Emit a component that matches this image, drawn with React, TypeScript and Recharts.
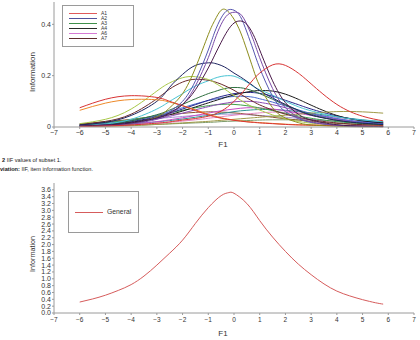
import { LineChart, Line, XAxis, YAxis, Legend } from "recharts";

// theta points where each item information curve is sampled
const theta = [-6, -5, -4, -3, -2.5, -2, -1.5, -1, -0.75, -0.5, -0.25, 0, 0.25, 0.5, 0.75, 1, 1.5, 2, 2.5, 3, 4, 5, 5.8];

// tall, narrow items
const iifOlive = [0.003, 0.005, 0.012, 0.04, 0.075, 0.13, 0.23, 0.36, 0.415, 0.455, 0.452, 0.42, 0.37, 0.3, 0.225, 0.16, 0.075, 0.035, 0.017, 0.008, 0.003, 0.001, 0.001];
const iifSlate = [0.004, 0.008, 0.015, 0.035, 0.06, 0.1, 0.18, 0.3, 0.37, 0.425, 0.455, 0.455, 0.43, 0.37, 0.3, 0.23, 0.12, 0.06, 0.033, 0.018, 0.007, 0.003, 0.002];
const iifViolet = [0.003, 0.006, 0.012, 0.03, 0.05, 0.088, 0.16, 0.27, 0.34, 0.4, 0.437, 0.447, 0.44, 0.4, 0.34, 0.27, 0.15, 0.075, 0.038, 0.02, 0.007, 0.003, 0.001];
const iifPlum = [0.004, 0.008, 0.016, 0.035, 0.055, 0.088, 0.145, 0.23, 0.28, 0.33, 0.375, 0.405, 0.413, 0.4, 0.36, 0.3, 0.18, 0.095, 0.05, 0.027, 0.009, 0.003, 0.002];

// medium items
const iifRed = [0.002, 0.004, 0.008, 0.015, 0.02, 0.027, 0.033, 0.042, 0.05, 0.062, 0.078, 0.1, 0.125, 0.155, 0.185, 0.21, 0.242, 0.24, 0.21, 0.168, 0.088, 0.042, 0.024];
const iifRedLow = [0.075, 0.108, 0.122, 0.115, 0.1, 0.083, 0.064, 0.047, 0.04, 0.034, 0.03, 0.026, 0.023, 0.02, 0.018, 0.016, 0.013, 0.01, 0.008, 0.007, 0.005, 0.004, 0.003];
const iifOrange = [0.065, 0.093, 0.107, 0.106, 0.097, 0.083, 0.067, 0.05, 0.043, 0.036, 0.031, 0.027, 0.024, 0.021, 0.019, 0.017, 0.014, 0.011, 0.009, 0.008, 0.006, 0.004, 0.003];
const iifNavy = [0.008, 0.018, 0.045, 0.1, 0.155, 0.205, 0.24, 0.25, 0.248, 0.24, 0.227, 0.21, 0.195, 0.178, 0.16, 0.142, 0.113, 0.088, 0.065, 0.046, 0.026, 0.015, 0.01];
const iifLime = [0.013, 0.03, 0.07, 0.14, 0.172, 0.192, 0.196, 0.185, 0.172, 0.157, 0.14, 0.122, 0.105, 0.09, 0.077, 0.066, 0.047, 0.032, 0.022, 0.015, 0.007, 0.003, 0.002];
const iifBrown = [0.01, 0.022, 0.05, 0.11, 0.148, 0.175, 0.186, 0.182, 0.176, 0.167, 0.156, 0.143, 0.128, 0.113, 0.099, 0.086, 0.066, 0.05, 0.038, 0.028, 0.016, 0.009, 0.006];
const iifCyan = [0.005, 0.012, 0.03, 0.07, 0.1, 0.13, 0.16, 0.18, 0.19, 0.197, 0.2, 0.198, 0.188, 0.175, 0.158, 0.145, 0.124, 0.1, 0.079, 0.063, 0.04, 0.027, 0.02];
const iifKhaki = [0.002, 0.003, 0.005, 0.01, 0.013, 0.016, 0.019, 0.022, 0.024, 0.026, 0.028, 0.03, 0.032, 0.034, 0.036, 0.038, 0.042, 0.046, 0.05, 0.054, 0.06, 0.059, 0.054];
const iifForest = [0.006, 0.012, 0.024, 0.048, 0.066, 0.088, 0.11, 0.13, 0.138, 0.146, 0.152, 0.154, 0.153, 0.148, 0.14, 0.13, 0.108, 0.085, 0.065, 0.048, 0.026, 0.014, 0.009];

// flat, low items
const iifBlue = [0.008, 0.014, 0.025, 0.045, 0.06, 0.075, 0.09, 0.103, 0.108, 0.113, 0.117, 0.119, 0.12, 0.119, 0.116, 0.11, 0.097, 0.082, 0.067, 0.053, 0.033, 0.02, 0.014];
const iifPurple = [0.006, 0.01, 0.018, 0.032, 0.042, 0.054, 0.067, 0.079, 0.085, 0.09, 0.094, 0.098, 0.1, 0.1, 0.099, 0.096, 0.087, 0.075, 0.062, 0.05, 0.031, 0.019, 0.013];
const iifGreen = [0.01, 0.017, 0.028, 0.045, 0.055, 0.065, 0.075, 0.083, 0.086, 0.088, 0.089, 0.088, 0.086, 0.083, 0.079, 0.074, 0.064, 0.053, 0.043, 0.034, 0.021, 0.013, 0.009];
const iifMagenta = [0.004, 0.007, 0.012, 0.021, 0.028, 0.036, 0.045, 0.054, 0.059, 0.063, 0.067, 0.07, 0.073, 0.075, 0.075, 0.074, 0.07, 0.063, 0.054, 0.045, 0.029, 0.018, 0.012];
const iifTeal = [0.005, 0.008, 0.012, 0.02, 0.025, 0.031, 0.038, 0.045, 0.049, 0.053, 0.056, 0.06, 0.063, 0.065, 0.067, 0.068, 0.068, 0.065, 0.06, 0.054, 0.04, 0.028, 0.021];
const iifPink = [0.003, 0.005, 0.008, 0.014, 0.018, 0.023, 0.028, 0.034, 0.037, 0.04, 0.043, 0.046, 0.049, 0.051, 0.053, 0.055, 0.058, 0.057, 0.054, 0.049, 0.037, 0.026, 0.019];
const iifIndigo = [0.006, 0.011, 0.021, 0.04, 0.054, 0.07, 0.087, 0.104, 0.112, 0.119, 0.125, 0.13, 0.133, 0.135, 0.134, 0.131, 0.12, 0.104, 0.087, 0.07, 0.043, 0.025, 0.016];
const iifBlack = [0.004, 0.009, 0.018, 0.036, 0.048, 0.062, 0.078, 0.094, 0.102, 0.11, 0.118, 0.125, 0.131, 0.136, 0.14, 0.142, 0.14, 0.128, 0.108, 0.085, 0.045, 0.024, 0.017];
const iifLavender = [0.012, 0.018, 0.025, 0.033, 0.037, 0.041, 0.045, 0.048, 0.049, 0.05, 0.05, 0.05, 0.049, 0.048, 0.047, 0.045, 0.042, 0.038, 0.034, 0.03, 0.022, 0.016, 0.012];
const iifSage = [0.003, 0.005, 0.007, 0.01, 0.012, 0.014, 0.016, 0.018, 0.019, 0.021, 0.022, 0.023, 0.024, 0.025, 0.026, 0.027, 0.028, 0.028, 0.028, 0.027, 0.024, 0.02, 0.017];
const iifRust = [0.012, 0.02, 0.03, 0.042, 0.048, 0.053, 0.057, 0.059, 0.059, 0.058, 0.057, 0.055, 0.053, 0.05, 0.047, 0.044, 0.038, 0.032, 0.027, 0.022, 0.014, 0.009, 0.007];

// drawn in this order, last one on top
const items = [
  { key: "sage", color: "#7e9c6c", values: iifSage },
  { key: "lavender", color: "#a892d8", values: iifLavender },
  { key: "rust", color: "#8a5432", values: iifRust },
  { key: "pink", color: "#e486c0", values: iifPink },
  { key: "teal", color: "#2f9494", values: iifTeal },
  { key: "magenta", color: "#c64ec6", values: iifMagenta },
  { key: "green", color: "#3f9f4a", values: iifGreen },
  { key: "purple", color: "#8c4cb4", values: iifPurple },
  { key: "blue", color: "#4a6ad0", values: iifBlue },
  { key: "indigo", color: "#25258a", values: iifIndigo },
  { key: "black", color: "#1b1b1b", values: iifBlack },
  { key: "khaki", color: "#a09a48", values: iifKhaki },
  { key: "forest", color: "#2f6f3f", values: iifForest },
  { key: "cyan", color: "#48c4d4", values: iifCyan },
  { key: "brown", color: "#6b2b2b", values: iifBrown },
  { key: "lime", color: "#a8c848", values: iifLime },
  { key: "navy", color: "#1e2460", values: iifNavy },
  { key: "orange", color: "#ee8a2a", values: iifOrange },
  { key: "redLow", color: "#d83434", values: iifRedLow },
  { key: "olive", color: "#8c8c1c", values: iifOlive },
  { key: "slate", color: "#5656b0", values: iifSlate },
  { key: "violet", color: "#7a4aa8", values: iifViolet },
  { key: "plum", color: "#4a1a4a", values: iifPlum },
  { key: "red", color: "#d83434", values: iifRed },
];

const itemRows = theta.map((t, i) => {
  const row: Record<string, number> = { t };
  items.forEach((it) => {
    row[it.key] = it.values[i];
  });
  return row;
});

const legendNames = ["A1", "A2", "A3", "A4", "A6", "A7"];
const legendColors = ["#e05a5a", "#52529c", "#3f8f4a", "#2a2a2a", "#d57ad5", "#5c2c2c"];

// test information curve
const generalTheta = [-6, -5.5, -5, -4.5, -4, -3.5, -3, -2.5, -2, -1.5, -1, -0.5, -0.2, 0, 0.5, 1, 1.5, 2, 2.5, 3, 3.5, 4, 4.5, 5, 5.5, 5.8];
const generalInfo = [0.32, 0.41, 0.52, 0.66, 0.83, 1.08, 1.4, 1.75, 2.13, 2.62, 3.08, 3.43, 3.52, 3.5, 3.2, 2.7, 2.22, 1.8, 1.43, 1.12, 0.85, 0.64, 0.5, 0.39, 0.3, 0.26];
const generalRows = generalTheta.map((t, i) => ({ t, info: generalInfo[i] }));

const xTicks = [-7, -6, -5, -4, -3, -2, -1, 0, 1, 2, 3, 4, 5, 6, 7];
const itemYTicks = [0, 0.2, 0.4];
const generalYTicks = [0, 0.2, 0.4, 0.6, 0.8, 1, 1.2, 1.4, 1.6, 1.8, 2, 2.2, 2.4, 2.6, 2.8, 3, 3.2, 3.4, 3.6];

const FRAME = "#9a9a9a";
const TEXT = "#333";
const FONT = '"Liberation Sans", Arial, sans-serif';

const fmtX = (v: number) => (v < 0 ? "\u2212" + Math.abs(v) : String(v));

function LegendBox({ names, colors, rowGap, fontSize }: { names: string[]; colors: string[]; rowGap: number; fontSize: number }) {
  return (
    <div
      style={{
        width: "100%",
        height: "100%",
        boxSizing: "border-box",
        border: `1px solid ${FRAME}`,
        background: "#fff",
        padding: names.length > 1 ? "5px 0 0 6px" : "0 0 0 6px",
        display: "flex",
        flexDirection: "column",
        justifyContent: names.length > 1 ? "flex-start" : "center",
        fontFamily: FONT,
      }}
    >
      {names.map((n, i) => (
        <div key={n} style={{ position: "relative", height: rowGap }}>
          <div style={{ position: "absolute", left: 0, top: Math.floor(rowGap / 2), width: 28, height: 1, background: colors[i] }} />
          <span style={{ position: "absolute", left: 32, top: 0, fontSize, color: TEXT, lineHeight: `${rowGap}px` }}>{n}</span>
        </div>
      ))}
    </div>
  );
}

function Title({ text, x, y, size, rotate }: { text: string; x: number; y: number; size: number; rotate?: boolean }) {
  return (
    <div
      style={{
        position: "absolute",
        left: x,
        top: y,
        transform: `translate(-50%, -50%)${rotate ? " rotate(-90deg)" : ""}`,
        fontSize: size,
        color: TEXT,
        whiteSpace: "nowrap",
        lineHeight: 1,
      }}
    >
      {text}
    </div>
  );
}

export default function App() {
  return (
    <div
      style={{
        position: "absolute",
        left: 0,
        top: 0,
        width: 420,
        height: 340,
        background: "#fff",
        fontFamily: FONT,
        overflow: "hidden",
      }}
    >
      <div style={{ position: "absolute", left: 0, top: 0 }}>
        <LineChart width={420} height={150} data={itemRows} margin={{ top: 2, right: 6, bottom: 0, left: 0 }}>
          <XAxis
            dataKey="t"
            type="number"
            domain={[-7, 7]}
            ticks={xTicks}
            interval={0}
            height={23}
            tickSize={2}
            tickMargin={1}
            tickFormatter={fmtX}
            tick={{ fontSize: 7, fill: TEXT }}
            axisLine={{ stroke: FRAME }}
            tickLine={{ stroke: FRAME }}
          />
          <XAxis xAxisId="top" orientation="top" type="number" domain={[-7, 7]} height={0} tick={false} tickLine={false} axisLine={{ stroke: FRAME }} />
          <YAxis
            type="number"
            domain={[0, 0.487]}
            ticks={itemYTicks}
            interval={0}
            width={54}
            tickSize={2}
            tickMargin={1}
            tickFormatter={(v: number) => (v === 0 ? "0" : v.toFixed(1))}
            tick={{ fontSize: 7, fill: TEXT }}
            axisLine={{ stroke: FRAME }}
            tickLine={{ stroke: FRAME }}
          />
          <YAxis yAxisId="right" orientation="right" type="number" domain={[0, 1]} width={0} tick={false} tickLine={false} axisLine={{ stroke: FRAME }} />
          {items.map((it) => (
            <Line
              key={it.key}
              dataKey={it.key}
              type="natural"
              stroke={it.color}
              strokeWidth={1}
              dot={false}
              isAnimationActive={false}
            />
          ))}
          <Legend
            layout="vertical"
            align="center"
            verticalAlign="middle"
            wrapperStyle={{ position: "absolute", left: 62, top: 5, width: 72, height: 42 }}
            content={() => <LegendBox names={legendNames} colors={legendColors} rowGap={5} fontSize={5} />}
          />
        </LineChart>
      </div>
      <Title text="Information" x={33} y={72} size={8} rotate />
      <Title text="F1" x={223} y={145} size={8} />

      <div style={{ position: "absolute", left: 2, top: 156.5, fontSize: 5.6, color: "#222", whiteSpace: "nowrap", lineHeight: "7px" }}>
        <b>2</b> IIF values of subset 1.
      </div>
      <div style={{ position: "absolute", left: 0, top: 165.5, fontSize: 5.6, color: "#222", whiteSpace: "nowrap", lineHeight: "7px" }}>
        <b>viation:</b> IIF, item information function.
      </div>

      <div style={{ position: "absolute", left: 0, top: 178 }}>
        <LineChart width={420} height={162} data={generalRows} margin={{ top: 5, right: 6, bottom: 0, left: 0 }}>
          <XAxis
            dataKey="t"
            type="number"
            domain={[-7, 7]}
            ticks={xTicks}
            interval={0}
            height={27}
            tickSize={2}
            tickMargin={2}
            tickFormatter={fmtX}
            tick={{ fontSize: 6.5, fill: TEXT }}
            axisLine={{ stroke: FRAME }}
            tickLine={{ stroke: FRAME }}
          />
          <XAxis xAxisId="top" orientation="top" type="number" domain={[-7, 7]} height={0} tick={false} tickLine={false} axisLine={{ stroke: FRAME }} />
          <YAxis
            type="number"
            domain={[0, 3.8]}
            ticks={generalYTicks}
            interval={0}
            width={54}
            tickSize={2}
            tickMargin={1}
            tickFormatter={(v: number) => v.toFixed(1)}
            tick={{ fontSize: 7, fill: TEXT }}
            axisLine={{ stroke: FRAME }}
            tickLine={{ stroke: FRAME }}
          />
          <YAxis yAxisId="right" orientation="right" type="number" domain={[0, 1]} width={0} tick={false} tickLine={false} axisLine={{ stroke: FRAME }} />
          <Line
            dataKey="info"
            name="General"
            type="natural"
            stroke="#d65c5c"
            strokeWidth={1}
            dot={false}
            isAnimationActive={false}
          />
          <Legend
            layout="vertical"
            align="center"
            verticalAlign="middle"
            wrapperStyle={{ position: "absolute", left: 68, top: 13, width: 71, height: 42 }}
            content={() => <LegendBox names={["General"]} colors={["#d65c5c"]} rowGap={10} fontSize={6.8} />}
          />
        </LineChart>
      </div>
      <Title text="Information" x={33} y={254} size={7.2} rotate />
      <Title text="F1" x={223} y={334} size={8} />
    </div>
  );
}
